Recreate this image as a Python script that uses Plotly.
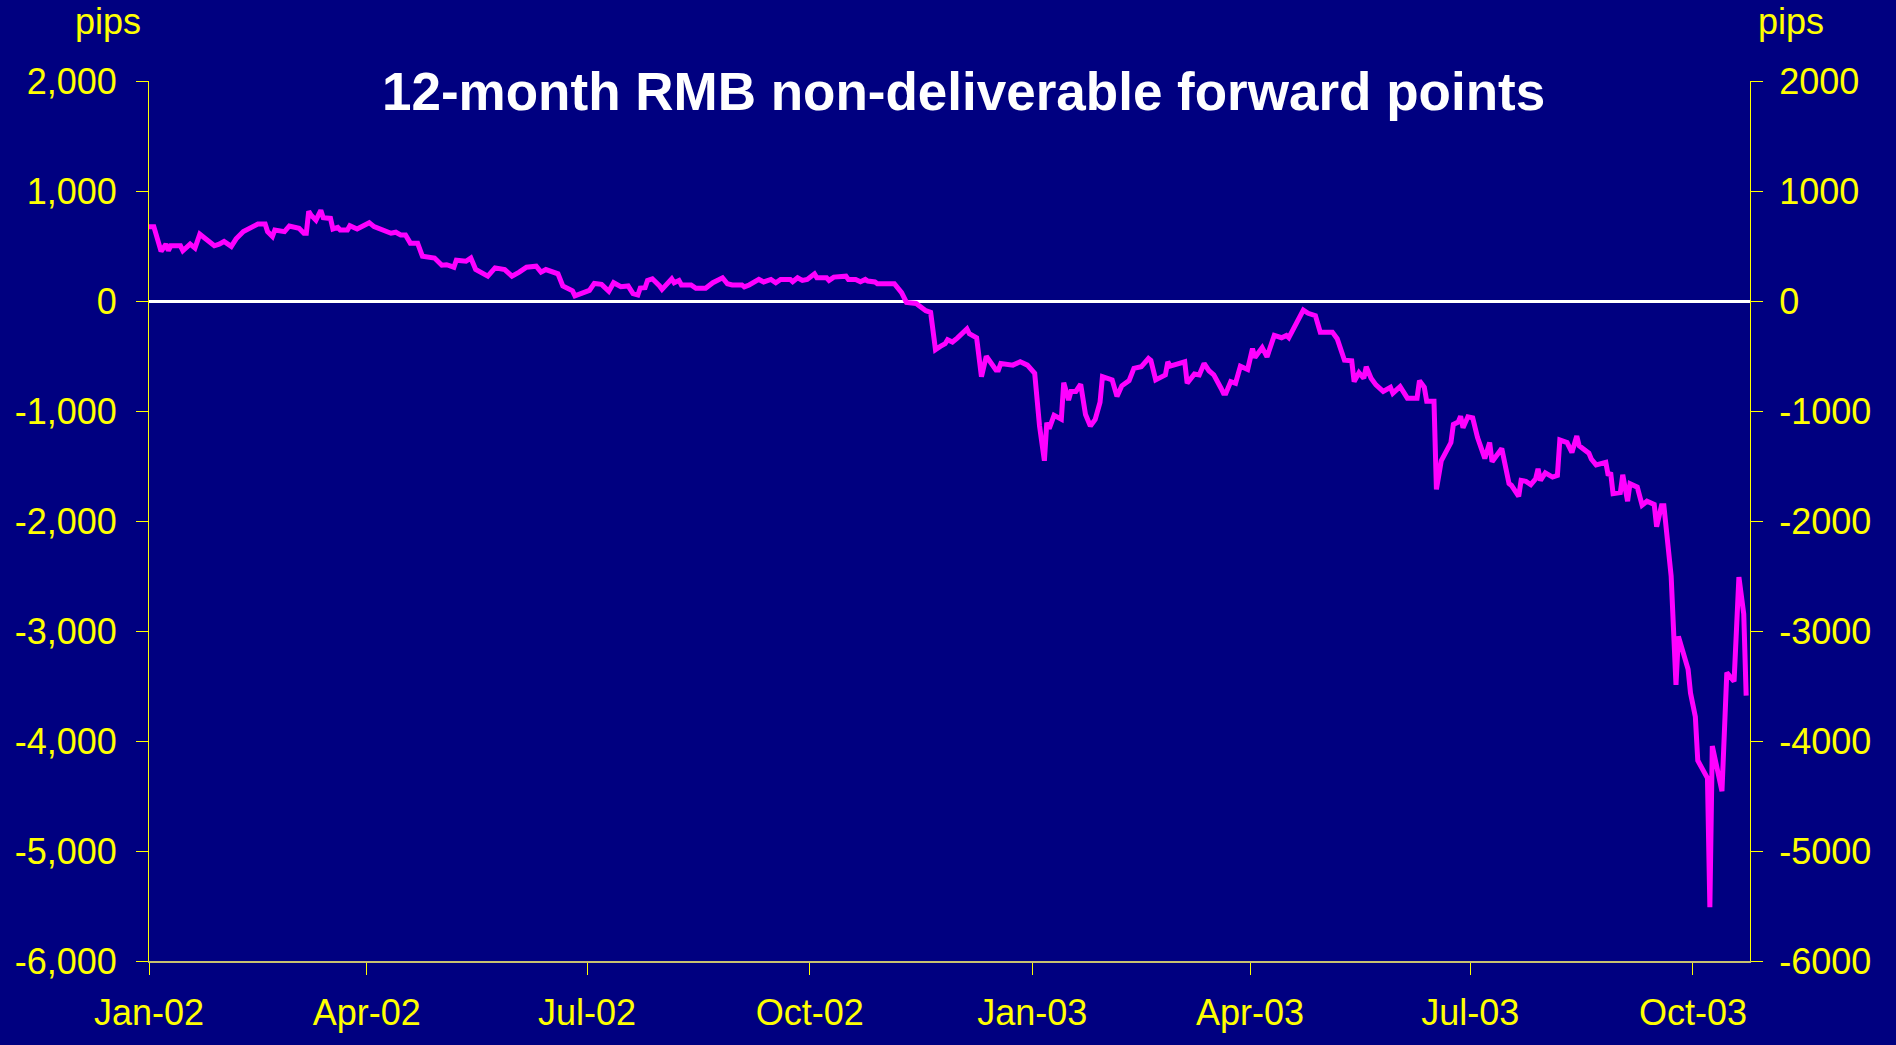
import plotly.graph_objects as go

# ---------------- data ----------------
dates_2002 = [
    "2002-01-01", "2002-01-03", "2002-01-06", "2002-01-08", "2002-01-09", "2002-01-10", "2002-01-14", "2002-01-15",
    "2002-01-18", "2002-01-20", "2002-01-22", "2002-01-25", "2002-01-28", "2002-01-30", "2002-02-01", "2002-02-04",
    "2002-02-06", "2002-02-09", "2002-02-12", "2002-02-15", "2002-02-18", "2002-02-19", "2002-02-21", "2002-02-22",
    "2002-02-26", "2002-02-28", "2002-03-04", "2002-03-06", "2002-03-07", "2002-03-08", "2002-03-09", "2002-03-11",
    "2002-03-13", "2002-03-14", "2002-03-17", "2002-03-18", "2002-03-20", "2002-03-21", "2002-03-24", "2002-03-25",
    "2002-03-28",
    "2002-04-02", "2002-04-04", "2002-04-07", "2002-04-11", "2002-04-13", "2002-04-15", "2002-04-17", "2002-04-19",
    "2002-04-22", "2002-04-24", "2002-04-29", "2002-05-02", "2002-05-04", "2002-05-07", "2002-05-08", "2002-05-12",
    "2002-05-14", "2002-05-16", "2002-05-21", "2002-05-24", "2002-05-28", "2002-05-31", "2002-06-03", "2002-06-06",
    "2002-06-10", "2002-06-12", "2002-06-14", "2002-06-17", "2002-06-19", "2002-06-21", "2002-06-25", "2002-06-26",
    "2002-06-29",
    "2002-07-02", "2002-07-04", "2002-07-07", "2002-07-10", "2002-07-12", "2002-07-15", "2002-07-18", "2002-07-20",
    "2002-07-22", "2002-07-23", "2002-07-25", "2002-07-26", "2002-07-28", "2002-07-31", "2002-08-01", "2002-08-05",
    "2002-08-06", "2002-08-08", "2002-08-09", "2002-08-13", "2002-08-15", "2002-08-19", "2002-08-22", "2002-08-26",
    "2002-08-28", "2002-08-30", "2002-09-03", "2002-09-04", "2002-09-06", "2002-09-10", "2002-09-12", "2002-09-15",
    "2002-09-17", "2002-09-19", "2002-09-23", "2002-09-24", "2002-09-26", "2002-09-28", "2002-09-30",
    "2002-10-03", "2002-10-04", "2002-10-08", "2002-10-09", "2002-10-11", "2002-10-16", "2002-10-17", "2002-10-20",
    "2002-10-22", "2002-10-24", "2002-10-25", "2002-10-28", "2002-10-29", "2002-11-05", "2002-11-08", "2002-11-10",
    "2002-11-14", "2002-11-17", "2002-11-18", "2002-11-20", "2002-11-22", "2002-11-24", "2002-11-26", "2002-11-27",
    "2002-11-29", "2002-12-01", "2002-12-05", "2002-12-06", "2002-12-09", "2002-12-11", "2002-12-13", "2002-12-17",
    "2002-12-18", "2002-12-19", "2002-12-24", "2002-12-27", "2002-12-30",
]
pips_2002 = [
    676, 676, 451, 517, 457, 502, 502, 457, 517, 481,
    607, 547, 502, 517, 541, 496, 565, 631, 667, 700,
    700, 631, 586, 646, 631, 682, 661, 616, 616, 816,
    780, 735, 825, 757, 751, 655, 670, 646, 646, 685,
    655,
    712, 676, 655, 616, 625, 601, 601, 526, 526, 406,
    391, 325, 330, 307, 370, 361, 391, 286, 226, 301,
    286, 226, 262, 307, 316, 262, 286, 265, 247, 137,
    92, 47, 67,
    97, 160, 151, 88, 166, 130, 137, 67, 55, 118,
    121, 187, 202, 137, 106, 202, 166, 187, 146, 146,
    115, 115, 166, 211, 157, 146, 146, 128, 146, 196,
    173, 196, 166, 196, 196, 175, 211, 187, 196,
    247, 211, 211, 187, 217, 226, 196, 196, 175, 196,
    181, 173, 157, 157, 76, -13, -22, -74, -88, -103,
    -442, -412, -388, -352, -373, -337, -253, -298, -334, -688,
    -502, -627, -627, -568, -583, -553, -583,
]

dates_2003 = [
    "2003-01-02", "2003-01-04", "2003-01-06", "2003-01-07", "2003-01-08", "2003-01-10", "2003-01-13", "2003-01-14",
    "2003-01-16", "2003-01-17", "2003-01-19", "2003-01-21", "2003-01-23", "2003-01-25", "2003-01-27", "2003-01-29",
    "2003-01-30", "2003-02-03", "2003-02-05", "2003-02-07", "2003-02-10", "2003-02-12", "2003-02-15", "2003-02-17",
    "2003-02-18", "2003-02-19", "2003-02-21", "2003-02-25", "2003-02-26", "2003-02-27", "2003-03-02", "2003-03-05",
    "2003-03-06", "2003-03-09", "2003-03-11", "2003-03-12", "2003-03-13", "2003-03-15", "2003-03-17", "2003-03-20",
    "2003-03-21", "2003-03-22", "2003-03-24", "2003-03-26", "2003-03-28", "2003-03-31",
    "2003-04-02", "2003-04-03", "2003-04-06", "2003-04-08", "2003-04-11", "2003-04-14", "2003-04-16", "2003-04-17",
    "2003-04-20", "2003-04-23", "2003-04-25", "2003-04-28", "2003-04-30", "2003-05-05", "2003-05-07", "2003-05-10",
    "2003-05-13", "2003-05-14", "2003-05-16", "2003-05-18", "2003-05-19", "2003-05-21", "2003-05-23", "2003-05-26",
    "2003-05-29", "2003-05-30", "2003-06-02", "2003-06-05", "2003-06-09", "2003-06-10", "2003-06-12", "2003-06-13",
    "2003-06-16", "2003-06-17", "2003-06-19", "2003-06-23", "2003-06-24", "2003-06-26", "2003-06-27", "2003-06-28",
    "2003-06-30",
    "2003-07-02", "2003-07-04", "2003-07-07", "2003-07-09", "2003-07-10", "2003-07-14", "2003-07-15", "2003-07-17",
    "2003-07-18", "2003-07-21", "2003-07-22", "2003-07-24", "2003-07-26", "2003-07-28", "2003-07-29", "2003-07-30",
    "2003-08-01", "2003-08-04", "2003-08-06", "2003-08-07", "2003-08-10", "2003-08-12", "2003-08-14", "2003-08-15",
    "2003-08-19", "2003-08-20", "2003-08-22", "2003-08-26", "2003-08-27", "2003-08-28", "2003-08-29", "2003-09-01",
    "2003-09-02", "2003-09-04", "2003-09-05", "2003-09-08", "2003-09-10", "2003-09-12", "2003-09-15", "2003-09-16",
    "2003-09-18", "2003-09-19", "2003-09-22", "2003-09-24", "2003-09-25", "2003-09-29", "2003-09-30", "2003-10-02",
    "2003-10-03", "2003-10-07", "2003-10-08", "2003-10-09", "2003-10-13", "2003-10-15", "2003-10-18", "2003-10-20",
    "2003-10-22", "2003-10-23",
]
pips_2003 = [
    -658, -1137, -1452, -1107, -1161, -1040, -1075, -742, -900, -822,
    -822, -757, -1032, -1137, -1077, -920, -688, -717, -867, -771,
    -724, -613, -598, -544, -523, -540, -717, -672, -553, -592,
    -568, -553, -748, -664, -672, -604, -568, -634, -672, -793,
    -838, -838, -733, -748, -592, -622,
    -433, -514, -424, -508, -313, -334, -313, -334, -202, -83,
    -112, -133, -283, -283, -343, -538, -544, -733, -652, -703,
    -598, -703, -763, -822, -784, -838, -778, -883, -883, -724,
    -784, -912, -912, -1712, -1452, -1287, -1122, -1101, -1047, -1152,
    -1053,
    -1062, -1242, -1431, -1287, -1461, -1341, -1436, -1660, -1676, -1775,
    -1631, -1640, -1670, -1616, -1526, -1631, -1562, -1601, -1586, -1263,
    -1287, -1377, -1227, -1317, -1383, -1436, -1490, -1467, -1586, -1560,
    -1751, -1742, -1580, -1820, -1661, -1692, -1856, -1820, -1850, -2051,
    -1862, -1862, -2501, -3489, -3049, -3348, -3564, -3780, -4178, -4337,
    -5512, -4045, -4456, -3378, -3459, -2510, -2845, -3588,
]

y_tickvals = [-6000, -5000, -4000, -3000, -2000, -1000, 0, 1000, 2000]
y_ticktext_left = ["-6,000", "-5,000", "-4,000", "-3,000", "-2,000", "-1,000", "0", "1,000", "2,000"]
y_ticktext_right = ["-6000", "-5000", "-4000", "-3000", "-2000", "-1000", "0", "1000", "2000"]

title_text = "12-month RMB non-deliverable forward points"
unit_label = "pips"

# ---------------- figure ----------------
dates = dates_2002 + dates_2003
pips = pips_2002 + pips_2003

NAVY = "#000080"
YELLOW = "#FFFF00"
FONT = "Liberation Sans, Arial, sans-serif"

fig = go.Figure()
fig.add_trace(go.Scatter(
    x=dates, y=pips, mode="lines",
    line=dict(color="#FF00FF", width=5),
    yaxis="y", showlegend=False,
))
# invisible copy so the right-hand axis is drawn
fig.add_trace(go.Scatter(
    x=dates, y=pips, mode="lines",
    line=dict(color="rgba(0,0,0,0)", width=0),
    yaxis="y2", showlegend=False, hoverinfo="skip",
))

tickfont = dict(family=FONT, size=36, color=YELLOW)

fig.update_layout(
    width=1896, height=1045,
    paper_bgcolor=NAVY, plot_bgcolor=NAVY,
    margin=dict(l=149, r=146, t=81, b=74),
    showlegend=False,
    xaxis=dict(
        type="date",
        range=["2002-01-01", "2003-10-24 14:00"],
        tick0="2002-01-01", dtick="M3", tickformat="%b-%y",
        showgrid=False, zeroline=False,
        showline=True, linecolor="#C8C070", linewidth=2,
        ticks="outside", ticklen=12, tickwidth=1, tickcolor=YELLOW,
        tickfont=tickfont, ticklabelstandoff=7,
    ),
    yaxis=dict(
        range=[-6000, 2000],
        tickmode="array", tickvals=y_tickvals, ticktext=y_ticktext_left,
        showgrid=False,
        zeroline=True, zerolinecolor="#FFFFFF", zerolinewidth=3,
        showline=True, linecolor=YELLOW, linewidth=1,
        ticks="outside", ticklen=12, tickwidth=1, tickcolor=YELLOW,
        tickfont=tickfont, ticklabelstandoff=12,
    ),
    yaxis2=dict(
        range=[-6000, 2000], overlaying="y", side="right",
        tickmode="array", tickvals=y_tickvals, ticktext=y_ticktext_right,
        showgrid=False, zeroline=False,
        showline=True, linecolor=YELLOW, linewidth=1,
        ticks="outside", ticklen=12, tickwidth=1, tickcolor=YELLOW,
        tickfont=tickfont, ticklabelstandoff=9,
    ),
    annotations=[
        dict(text="<b>" + title_text + "</b>", xref="paper", yref="paper",
             x=0.509, y=0.9875, xanchor="center", yanchor="middle", showarrow=False,
             font=dict(family=FONT, size=53, color="#FFFFFF")),
        dict(text=unit_label, xref="paper", yref="paper",
             x=-0.0256, y=1.0675, xanchor="center", yanchor="middle", showarrow=False,
             font=dict(family=FONT, size=36, color=YELLOW)),
        dict(text=unit_label, xref="paper", yref="paper",
             x=1.0256, y=1.0675, xanchor="center", yanchor="middle", showarrow=False,
             font=dict(family=FONT, size=36, color=YELLOW)),
    ],
)

fig.write_html("out.html", config={"displayModeBar": False},
               post_script="document.body.style.margin='0px';")
